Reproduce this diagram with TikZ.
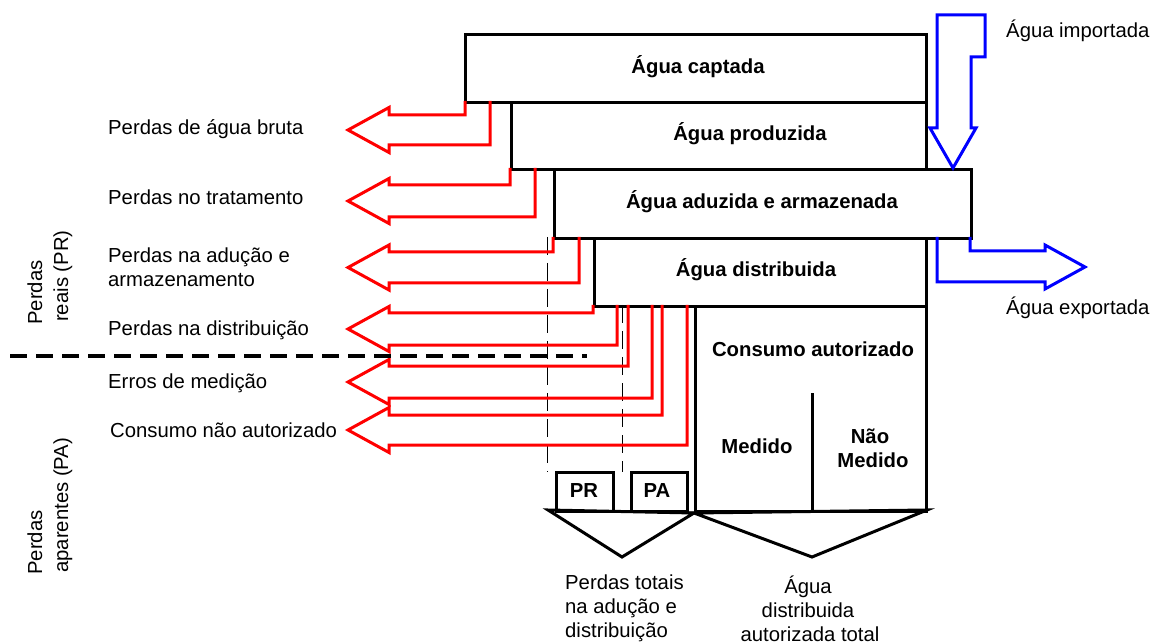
\documentclass[tikz,border=0pt]{standalone}
\usepackage{fontspec}
\setmainfont{Liberation Sans}
\newcommand\lossarrow[5]{% a, b, y0, top y, bottom y
  \draw[loss] (#1,#3) -- (#1,#4) -- (389,#4) -- (389,{(#4+#5)/2-22.5})
    -- (348,{(#4+#5)/2}) -- (389,{(#4+#5)/2+22.5}) -- (389,#5) -- (#2,#5) -- (#2,#3);}
\begin{document}
\begin{tikzpicture}[x=1pt,y=-1pt,
  box/.style={draw, line width=3pt, inner sep=0pt, anchor=north west},
  loss/.style={draw=red, line width=3pt, line join=miter},
  flow/.style={draw=blue, line width=3pt, line join=miter},
  lbl/.style={inner sep=0pt, anchor=base west, font=\fontsize{20.3}{24}\selectfont},
  clbl/.style={inner sep=0pt, anchor=base, font=\fontsize{20.3}{24}\selectfont},
  blbl/.style={inner sep=0pt, anchor=base, font=\fontsize{20.3}{24}\selectfont\bfseries},
  rlbl/.style={inner sep=0pt, anchor=base west, rotate=90, font=\fontsize{20.3}{24}\selectfont},
  sep/.style={line width=1pt, dash pattern=on 18pt off 8pt},
  ]
\useasboundingbox (0,0) rectangle (1154,644);

% boxes
\node[box, minimum width=461, minimum height=68] (cap) at (464,33) {};
\node[box, minimum width=415, minimum height=67] (prod) at (510,101) {};
\node[box, minimum width=417, minimum height=69] (adu) at (553,168) {};
\node[box, minimum width=332, minimum height=68] (dist) at (593,237) {};
\node[box, minimum width=231, minimum height=205] (cons) at (694,305) {};
\node[box, minimum width=57, minimum height=39] (pr) at (555,471) {};
\node[box, minimum width=56, minimum height=39] (pa) at (630,471) {};
\draw[line width=3pt] (812,393) -- (812,510);

% bottom braces (triangles)
\draw[line width=3pt, line join=miter] (548,510) -- (cons.south west) -- (622,557) -- cycle;
\draw[line width=3pt, line join=miter] (cons.south west) -- (927,510) -- (812,557) -- cycle;

% thin dashed guides
\draw[sep] (547,237) -- (547,472);
\draw[sep] (622,305) -- (622,472);

% red loss arrows
\lossarrow{465}{490}{101}{115}{145}
\lossarrow{510}{535}{168}{185}{217}
\lossarrow{553}{579}{237}{252}{283}
\lossarrow{593}{617}{305}{313}{345}
\lossarrow{628}{652}{305}{366}{398}
\lossarrow{662}{687}{305}{415}{445}

% separator PR / PA
\draw[line width=3.5pt, dash pattern=on 17pt off 9pt] (10,356) -- (587,356);

% blue import / export
\draw[flow] (937,15) -- (985,15) -- (985,57) -- (971,57) -- (971,128) -- (976,128)
  -- (953,168) -- (930,128) -- (937,128) -- cycle;
\draw[flow] (937,237) -- (937,282) -- (1045,282) -- (1045,289) -- (1085,267)
  -- (1045,245) -- (1045,251) -- (970,251) -- (970,237);

% box labels
\node[blbl] (tcap) at (698,74) {Água captada};
\node[blbl] (tprod) at (750,141) {Água produzida};
\node[blbl] (tadu) at (762,209) {Água aduzida e armazenada};
\node[blbl] (tdist) at (756,277) {Água distribuida};
\node[blbl] (tcons) at (813,356) {Consumo autorizado};
\node[blbl] (tmed) at (757,453) {Medido};
\node[blbl] (tnao) at (870,443) {Não};
\node[blbl] (tnmed) at (873,467) {Medido};
\node[blbl] (tpr) at (584,497) {PR};
\node[blbl] (tpa) at (657,497) {PA};

% left loss labels
\node[lbl] (l1) at (108,135) {Perdas de água bruta};
\node[lbl] (l2) at (108,205) {Perdas no tratamento};
\node[lbl] (l3a) at (108,263) {Perdas na adução e};
\node[lbl] (l3b) at (108,287) {armazenamento};
\node[lbl] (l4) at (108,335) {Perdas na distribuição};
\node[lbl] (l5) at (108,388) {Erros de medição};
\node[lbl] (l6) at (110,437) {Consumo não autorizado};

% rotated category labels
\node[rlbl] (pr1) at (42,325) {Perdas};
\node[rlbl] (pr2) at (68,322) {reais (PR)};
\node[rlbl] (pa1) at (42,575) {Perdas};
\node[rlbl] (pa2) at (68,573) {aparentes (PA)};

% import / export labels
\node[lbl] (imp) at (1006,38) {Água importada};
\node[lbl] (exp) at (1006,315) {Água exportada};

% bottom labels
\node[lbl] (b1) at (565,589) {Perdas totais};
\node[lbl] (b2) at (565,613) {na adução e};
\node[lbl] (b3) at (565,637) {distribuição};
\node[clbl] (c1) at (808,593) {Água};
\node[clbl] (c2) at (808,617) {distribuida};
\node[clbl] (c3) at (810,641) {autorizada total};
\end{tikzpicture}
\end{document}
